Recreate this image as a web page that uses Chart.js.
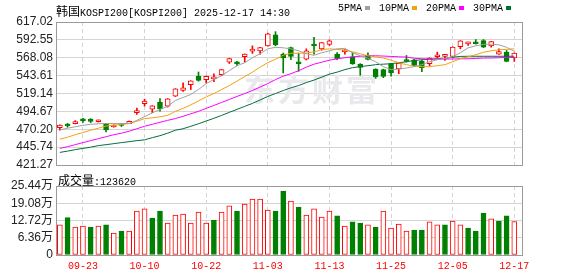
<!DOCTYPE html>
<html>
<head>
<meta charset="utf-8">
<script src="https://cdn.jsdelivr.net/npm/chart.js@4.4.0/dist/chart.umd.min.js"></script>
<style>
body{margin:0;background:#fff;}
#wrap{position:relative;width:578px;height:276px;overflow:hidden;}
canvas{position:absolute;left:0;top:0;}
.t{position:absolute;white-space:nowrap;color:#000;line-height:12px;height:12px;}
.cjk{font:12px 'Noto Sans CJK SC';}
.mono{font:10px 'Liberation Mono';}
#legend{position:absolute;left:338px;top:2px;display:flex;align-items:center;height:12px;}
#legend i{display:inline-block;width:5px;height:4px;margin:0 9px 0 3px;}
</style>
</head>
<body>
<div id="wrap">
  <canvas id="kline" width="578" height="276"></canvas>
  <canvas id="vol" width="578" height="276"></canvas>
  <div class="t" style="left:56px;top:2px"><span class="cjk">韩国</span><span class="mono">KOSPI200[KOSPI200] 2025-12-17 14:30</span></div>
  <div id="legend"></div>
  <div class="t" style="left:58px;top:171px"><span class="cjk">成交量</span><span class="mono" id="lastVol"></span></div>
</div>
<script>
//----------------------------------------
// datos

const dates = ["09-18","09-19","09-22","09-23","09-24","09-25","09-26","09-29","09-30","10-01",
  "10-02","10-10","10-13","10-14","10-15","10-16","10-17","10-20","10-21","10-22",
  "10-23","10-24","10-27","10-28","10-29","10-30","10-31","11-03","11-04","11-05",
  "11-06","11-07","11-10","11-11","11-12","11-13","11-14","11-17","11-18","11-19",
  "11-20","11-21","11-24","11-25","11-26","11-27","11-28","12-01","12-02","12-03",
  "12-04","12-05","12-08","12-09","12-10","12-11","12-12","12-15","12-16","12-17"];

const tickDates = ["09-23","10-10","10-22","11-03","11-13","11-25","12-05","12-17"];

const openP = [472.5,476.6,478.0,482.6,482.8,480.5,477.0,473.3,476.0,478.0,
  492.9,505.1,497.8,507.3,501.9,515.5,523.2,531.4,542.7,538.2,
  539.1,545.0,562.2,560.9,569.4,577.2,577.6,584.4,599.4,573.1,
  582.1,560.5,566.3,585.0,580.3,586.2,573.1,576.0,569.4,559.5,
  571.8,552.5,551.8,560.0,552.7,565.4,565.4,563.6,559.9,569.4,
  569.9,569.8,583.4,587.0,589.5,591.6,584.4,573.1,575.8,567.7];

const highP = [476.2,478.3,482.0,485.0,484.8,483.0,478.4,476.3,477.0,481.5,
  499.2,511.4,502.6,512.3,512.2,525.8,533.7,536.6,548.6,543.0,
  546.0,552.0,567.3,563.1,573.3,584.4,582.3,601.7,603.8,574.5,
  582.6,574.5,580.3,596.2,589.1,592.5,575.3,579.2,574.9,560.0,
  574.9,553.0,552.5,560.5,561.2,571.2,565.8,564.5,568.0,575.8,
  572.5,583.0,591.5,589.4,593.0,593.0,590.5,580.3,578.0,574.7];

const lowP = [468.8,472.9,477.5,479.5,479.3,480.0,466.5,473.0,474.0,477.8,
  490.6,501.9,492.9,495.1,500.5,515.0,522.0,524.6,536.0,533.7,
  535.5,543.6,560.2,557.2,562.2,574.0,573.1,584.0,584.4,547.3,
  565.4,549.5,565.0,573.1,578.5,585.0,565.5,573.0,559.0,544.0,
  565.0,539.8,540.8,543.0,546.3,562.2,556.0,549.0,557.0,567.7,
  564.5,567.7,580.3,585.0,586.7,582.0,582.6,572.5,562.5,563.1];

const closeP = [476.0,474.7,480.1,481.8,481.0,481.6,469.2,476.0,475.3,481.0,
  495.1,508.7,502.4,498.3,511.9,525.5,526.9,536.4,537.2,542.7,
  540.5,551.8,567.1,559.9,573.1,578.0,582.1,600.7,585.7,567.7,
  569.9,559.9,577.6,584.2,588.9,591.2,566.7,579.0,559.5,554.9,
  565.8,542.0,542.6,547.3,560.9,563.0,557.6,554.5,567.7,572.2,
  570.8,582.6,591.2,587.6,587.3,582.6,590.2,576.6,563.1,574.5];

const ma5 = [469.3,471.6,473.6,475.6,477.0,477.7,478.0,478.0,478.0,478.0,
  482.4,487.5,492.6,497.4,501.5,509.6,513.7,517.8,524.6,532.7,
  538.2,543.6,550.4,557.2,561.3,568.1,573.5,580.3,582.4,581.7,
  580.3,577.6,573.5,571.5,574.9,577.6,580.3,581.0,574.9,570.8,
  567.4,562.6,555.9,551.8,552.5,554.1,555.9,558.6,562.6,565.4,
  567.4,569.4,574.9,581.7,584.4,586.4,586.7,585.8,582.4,576.9];

const ma10 = [456.6,459.3,462.7,465.7,468.9,471.6,474.7,475.6,477.0,478.0,
  481.1,484.8,485.8,487.2,489.2,494.7,498.8,503.5,509.0,514.4,
  519.1,524.6,530.0,536.1,542.3,548.4,555.2,561.3,566.0,571.5,
  574.2,574.2,574.5,576.2,579.0,580.3,579.6,578.3,576.2,573.5,
  570.8,569.4,567.7,564.7,561.3,558.6,556.5,555.9,555.9,557.2,
  558.6,562.6,566.7,569.4,572.2,575.6,577.6,579.0,579.6,580.3];

const ma20 = [444.0,446.4,449.1,451.9,454.6,457.3,460.0,462.7,464.8,467.5,
  470.9,474.3,477.0,479.7,482.4,484.8,487.9,491.3,494.7,498.8,
  502.8,506.9,511.0,515.1,519.1,523.2,528.0,532.7,538.2,542.9,
  546.3,550.4,555.2,559.3,562.0,564.7,566.7,568.1,569.4,570.1,
  570.8,570.8,570.4,569.9,569.4,569.0,567.4,566.7,566.3,566.3,
  566.3,566.3,566.7,566.7,567.1,567.7,567.7,568.1,568.5,568.5];

const ma30 = [438.5,440.3,442.3,444.0,445.7,447.8,449.1,450.5,451.9,453.2,
  454.6,455.7,458.7,461.4,464.8,468.9,470.9,474.3,477.7,481.5,
  485.2,489.2,493.3,497.4,501.5,505.6,510.3,515.1,519.1,523.2,
  526.9,530.0,534.1,537.5,541.6,545.7,548.4,551.8,554.5,555.9,
  557.2,558.6,559.3,559.9,561.3,562.6,564.4,565.4,566.0,566.7,
  567.4,568.8,569.9,570.1,570.1,570.1,570.1,570.1,570.1,570.1];

// volumen en 万
const volume = [11.1,13.8,10.3,10.7,10.3,10.7,11.1,8.1,8.8,8.8,
  16.2,17.0,13.6,16.2,11.8,14.7,15.1,11.8,15.8,11.8,
  12.9,15.8,18.1,16.2,18.8,20.6,20.6,16.6,16.2,23.6,
  19.9,17.7,14.7,17.0,14.0,16.2,14.4,10.7,12.2,11.8,
  11.1,10.3,16.2,9.9,11.4,8.8,9.2,9.2,12.2,11.1,
  11.1,12.5,11.1,9.9,8.8,15.5,13.3,12.5,14.4,12.362];

const priceTicks = [617.02,592.55,568.08,543.61,519.14,494.67,470.20,445.74,421.27];
const priceTickLabels = ["617.02","592.55","568.08","543.61","519.14","494.67","470.20","445.74","421.27"];
const volTicks = [25.44,19.08,12.72,6.36,0];
const volTickLabels = ["25.44万","19.08万","12.72万","6.36万","0"];

const maNames = ["5PMA","10PMA","20PMA","30PMA"];
const maColors = ["#a0a0a0","#f2a20c","#ff00ff","#00703a"];

//----------------------------------------

const RED = "#ff0000";
const GREEN = "#008000";
const GRID = "#d4d4d4";
const FRAME = "#9a9a9a";

const up = closeP.map((c, i) => c >= openP[i]);
const volUp = closeP.map((c, i) => i === 0 || c >= closeP[i - 1]);
const labelIdx = tickDates.map(d => dates.indexOf(d));

// leyenda y ultimo volumen
const legend = document.getElementById("legend");
maNames.forEach((n, k) => {
  legend.insertAdjacentHTML("beforeend",
    '<span class="mono">' + n + '</span><i style="background:' + maColors[k] + '"></i>');
});
document.getElementById("lastVol").textContent = ":" + Math.round(volume[volume.length - 1] * 10000);

const frame = {
  id: "frame",
  afterDraw(chart) {
    const a = chart.chartArea;
    const ctx = chart.ctx;
    ctx.save();
    ctx.strokeStyle = FRAME;
    ctx.lineWidth = 1;
    ctx.strokeRect(Math.round(a.left) + 0.5, Math.round(a.top) + 0.5,
      Math.round(a.right - a.left), Math.round(a.bottom - a.top));
    ctx.restore();
  }
};

const watermark = {
  id: "watermark",
  beforeDatasetsDraw(chart) {
    const ctx = chart.ctx;
    ctx.save();
    ctx.fillStyle = "#e9e9ed";
    ctx.font = "bold 31px 'Noto Sans CJK SC'";
    ctx.textBaseline = "middle";
    ctx.letterSpacing = "3px";
    ctx.fillText("东方财富", 244, 89);
    ctx.restore();
  }
};

function xScale(showLabels) {
  return {
    type: "linear",
    min: -0.5,
    max: 60,
    offset: false,
    afterBuildTicks: s => { s.ticks = labelIdx.map(v => ({ value: v })); },
    afterFit: s => { s.height = showLabels ? 21 : 0; },
    ticks: {
      display: showLabels,
      autoSkip: false,
      maxRotation: 0,
      padding: 5,
      color: RED,
      font: { family: "Liberation Mono", size: 10 },
      callback: (v, i) => tickDates[i]
    },
    grid: { color: GRID, drawTicks: false, offset: false },
    border: { display: false, dash: [4, 3] }
  };
}

function yScale(ticks, labels) {
  return {
    min: ticks[ticks.length - 1],
    max: ticks[0],
    afterBuildTicks: s => { s.ticks = ticks.map(v => ({ value: v })); },
    afterFit: s => { s.width = 56; },
    ticks: {
      autoSkip: false,
      padding: 3,
      color: "#222",
      font: { family: "Liberation Sans, 'Noto Sans CJK SC'", size: 12 },
      callback: (v, i) => labels[i]
    },
    grid: { color: GRID, drawTicks: false },
    border: { display: false }
  };
}

new Chart(document.getElementById("kline"), {
  type: "bar",
  data: {
    datasets: [
      ...[ma5, ma10, ma20, ma30].map((m, k) => ({
        type: "line",
        label: maNames[k],
        data: m.map((v, i) => ({ x: i, y: v })),
        borderColor: maColors[k],
        borderWidth: 1,
        pointRadius: 0,
        tension: 0,
        fill: false,
        order: 0
      })),
      {
        label: "body",
        data: openP.map((o, i) => ({ x: i, y: [o, closeP[i]] })),
        backgroundColor: up.map(u => u ? "#ffffff" : GREEN),
        borderColor: up.map(u => u ? RED : GREEN),
        borderWidth: 1,
        borderSkipped: false,
        barThickness: 5,
        minBarLength: 2,
        grouped: false,
        order: 1
      },
      {
        label: "wick",
        data: lowP.map((l, i) => ({ x: i, y: [l, highP[i]] })),
        backgroundColor: up.map(u => u ? RED : GREEN),
        barThickness: 1,
        grouped: false,
        order: 2
      }
    ]
  },
  options: {
    responsive: false,
    animation: false,
    devicePixelRatio: 1,
    layout: { padding: { left: 0, right: 56, top: 22, bottom: 111 } },
    plugins: { legend: { display: false }, tooltip: { enabled: false }, title: { display: false } },
    scales: { x: xScale(false), y: yScale(priceTicks, priceTickLabels) }
  },
  plugins: [watermark, frame]
});

new Chart(document.getElementById("vol"), {
  type: "bar",
  data: {
    datasets: [{
      label: "volumen",
      data: volume.map((v, i) => ({ x: i, y: v })),
      backgroundColor: volUp.map(u => u ? "#ffffff" : GREEN),
      borderColor: volUp.map(u => u ? RED : GREEN),
      borderWidth: 1,
      borderSkipped: false,
      barThickness: 5,
      grouped: false
    }]
  },
  options: {
    responsive: false,
    animation: false,
    devicePixelRatio: 1,
    layout: { padding: { left: 0, right: 56, top: 186, bottom: 0 } },
    plugins: { legend: { display: false }, tooltip: { enabled: false }, title: { display: false } },
    scales: { x: xScale(true), y: yScale(volTicks, volTickLabels) }
  },
  plugins: [frame]
});
</script>
</body>
</html>
